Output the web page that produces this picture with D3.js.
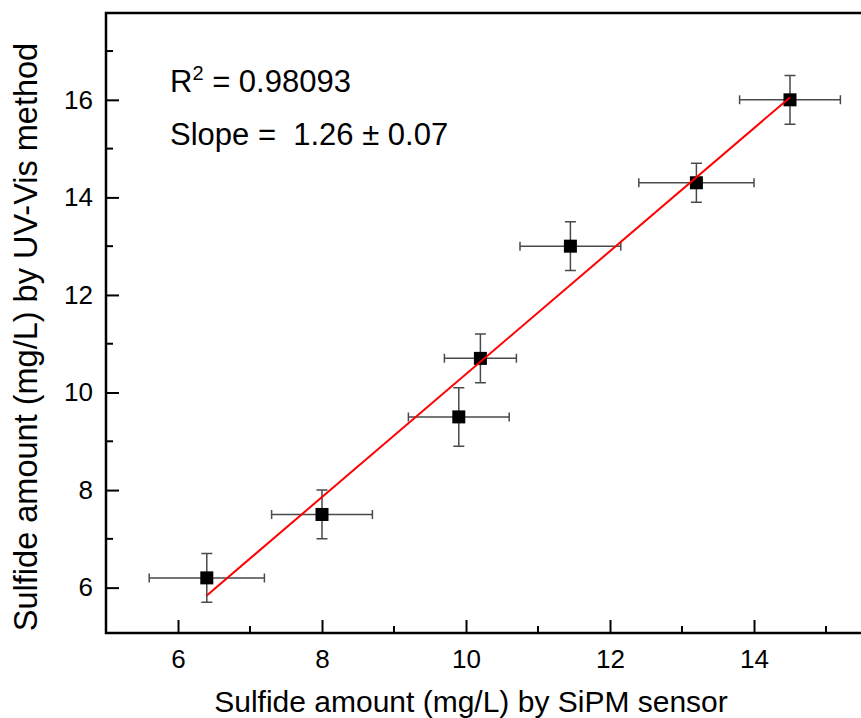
<!DOCTYPE html>
<html>
<head>
<meta charset="utf-8">
<script src="https://cdn.jsdelivr.net/npm/d3@7"></script>
<style>
  body { margin: 0; background: #fff; }
  svg { display: block; font-family: "Liberation Sans", Arial, sans-serif; }
</style>
</head>
<body>
<div id="chart"></div>
<script>
// data
var sipm      = [6.4, 8.0, 9.9, 10.2, 11.45, 13.2, 14.5];
var sipm_err  = [0.8, 0.7, 0.7, 0.5, 0.7, 0.8, 0.7];
var uvvis     = [6.2, 7.5, 9.5, 10.7, 13.0, 14.3, 16.0];
var uvvis_err = [0.5, 0.5, 0.6, 0.5, 0.5, 0.4, 0.5];

var fit_x = [6.4, 14.5];
var fit_y = [5.84, 16.05];

var x_ticks = [6, 8, 10, 12, 14];
var x_minor = [7, 9, 11, 13, 15];
var y_ticks = [6, 8, 10, 12, 14, 16];
var y_minor = [7, 9, 11, 13, 15, 17];

var width  = 861;
var height = 718;
var left   = 106;
var top_   = 13;
var bottom = 633;

var svg = d3.select('#chart')
    .append('svg')
    .attr('width', width)
    .attr('height', height);

var x_scale = d3.scaleLinear()
    .domain([5, 15.6])
    .range([left, left + 10.6 * 72]);

var y_scale = d3.scaleLinear()
    .domain([5.07, 17.78])
    .range([bottom, top_]);

// axes (ticks point inward)
var x_axis = d3.axisBottom(x_scale)
    .tickValues(x_ticks)
    .tickSize(-13)
    .tickPadding(17)
    .tickFormat(d3.format('d'));

var gx = svg.append('g')
    .attr('transform', 'translate(0,' + bottom + ')')
    .call(x_axis);

gx.selectAll('.tick line').attr('stroke', '#000').attr('stroke-width', 2);
gx.selectAll('.tick text').attr('font-size', '26px').attr('fill', '#000').attr('dy', '0.71em');
gx.select('.domain').remove();

gx.selectAll('.minor')
    .data(x_minor)
    .enter()
    .append('line')
    .attr('x1', function(d) { return x_scale(d); })
    .attr('x2', function(d) { return x_scale(d); })
    .attr('y1', 0)
    .attr('y2', -7)
    .attr('stroke', '#000')
    .attr('stroke-width', 2);

var y_axis = d3.axisLeft(y_scale)
    .tickValues(y_ticks)
    .tickSize(-13)
    .tickPadding(13)
    .tickFormat(d3.format('d'));

var gy = svg.append('g')
    .attr('transform', 'translate(' + left + ',0)')
    .call(y_axis);

gy.selectAll('.tick line').attr('stroke', '#000').attr('stroke-width', 2);
gy.selectAll('.tick text').attr('font-size', '26px').attr('fill', '#000');
gy.select('.domain').remove();

gy.selectAll('.minor')
    .data(y_minor)
    .enter()
    .append('line')
    .attr('y1', function(d) { return y_scale(d); })
    .attr('y2', function(d) { return y_scale(d); })
    .attr('x1', 0)
    .attr('x2', 7)
    .attr('stroke', '#000')
    .attr('stroke-width', 2);

// frame: left, bottom, top (right side is off the picture)
svg.append('path')
    .attr('d', 'M' + width + ',' + top_ + 'H' + left + 'V' + bottom + 'H' + width)
    .attr('fill', 'none')
    .attr('stroke', '#000')
    .attr('stroke-width', 2.5);

// error bars
var points = sipm.map(function(v, i) {
    return {x: v, y: uvvis[i], ex: sipm_err[i], ey: uvvis_err[i]};
});

var err = svg.append('g')
    .attr('stroke', '#4a4a4a')
    .attr('stroke-width', 1.5)
    .attr('fill', 'none');

points.forEach(function(p) {
    var cx = x_scale(p.x), cy = y_scale(p.y);
    var x0 = x_scale(p.x - p.ex), x1 = x_scale(p.x + p.ex);
    var y0 = y_scale(p.y - p.ey), y1 = y_scale(p.y + p.ey);
    err.append('path')
        .attr('d', 'M' + x0 + ',' + cy + 'H' + x1
            + 'M' + x0 + ',' + (cy - 4.5) + 'V' + (cy + 4.5)
            + 'M' + x1 + ',' + (cy - 4.5) + 'V' + (cy + 4.5)
            + 'M' + cx + ',' + y0 + 'V' + y1
            + 'M' + (cx - 5.5) + ',' + y0 + 'H' + (cx + 5.5)
            + 'M' + (cx - 5.5) + ',' + y1 + 'H' + (cx + 5.5));
});

// squares
svg.append('g')
    .selectAll('rect')
    .data(points)
    .enter()
    .append('rect')
    .attr('x', function(d) { return x_scale(d.x) - 6.5; })
    .attr('y', function(d) { return y_scale(d.y) - 6.5; })
    .attr('width', 13)
    .attr('height', 13)
    .attr('fill', '#000');

// linear fit
var line = d3.line()
    .x(function(d) { return x_scale(d[0]); })
    .y(function(d) { return y_scale(d[1]); });

svg.append('path')
    .datum(fit_x.map(function(v, i) { return [v, fit_y[i]]; }))
    .attr('d', line)
    .attr('fill', 'none')
    .attr('stroke', '#ff0000')
    .attr('stroke-width', 2);

// annotations
var r2 = svg.append('text')
    .attr('x', 170)
    .attr('y', 92)
    .attr('font-size', '31px')
    .attr('fill', '#000');
r2.append('tspan').text('R');
r2.append('tspan').attr('font-size', '20px').attr('dy', -12).text('2');
r2.append('tspan').attr('dy', 12).text(' = 0.98093');

svg.append('text')
    .attr('x', 170)
    .attr('y', 145)
    .attr('font-size', '31px')
    .attr('fill', '#000')
    .attr('xml:space', 'preserve')
    .style('white-space', 'pre')
    .text('Slope =  1.26 \u00b1 0.07');

// axis labels
svg.append('text')
    .attr('x', 471)
    .attr('y', 712)
    .attr('text-anchor', 'middle')
    .attr('font-size', '30px')
    .attr('fill', '#000')
    .text('Sulfide amount (mg/L) by SiPM sensor');

svg.append('text')
    .attr('transform', 'translate(37,' + 337 + ') rotate(-90)')
    .attr('text-anchor', 'middle')
    .attr('font-size', '32.5px')
    .attr('fill', '#000')
    .text('Sulfide amount (mg/L) by UV-Vis method');
</script>
</body>
</html>
